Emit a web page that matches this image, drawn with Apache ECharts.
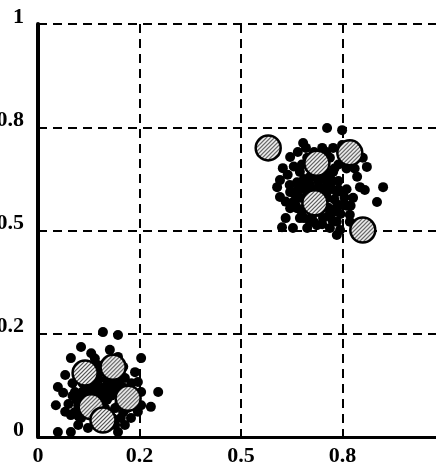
<!DOCTYPE html>
<html>
<head>
<meta charset="utf-8">
<script src="https://cdn.jsdelivr.net/npm/echarts@6/dist/echarts.min.js"></script>
<style>
  html, body { margin: 0; padding: 0; background: #fff; }
  #chart { width: 436px; height: 471px; }
</style>
</head>
<body>
<div id="chart"></div>
<script>
// tick labels (gridlines evenly spaced, labels as printed)
const tickLabels = ['0', '0.2', '0.5', '0.8', '1'];

// small black points, upper-right cluster
const upperDots = [
  [0.712,0.748],[0.749,0.743],[0.653,0.712],[0.621,0.678],[0.603,0.651],[0.596,0.622],
  [0.589,0.605],[0.596,0.581],[0.621,0.593],[0.638,0.617],[0.645,0.642],[0.663,0.676],
  [0.719,0.676],[0.727,0.642],[0.712,0.617],[0.695,0.603],[0.670,0.593],[0.645,0.579],
  [0.638,0.554],[0.621,0.554],[0.645,0.530],[0.670,0.521],[0.702,0.530],[0.727,0.545],
  [0.744,0.562],[0.768,0.538],[0.768,0.521],[0.736,0.521],[0.719,0.506],[0.736,0.489],
  [0.744,0.501],[0.810,0.654],[0.786,0.630],[0.793,0.605],[0.805,0.598],[0.850,0.605],
  [0.835,0.569],[0.776,0.579],[0.601,0.508],[0.628,0.506],[0.663,0.506],[0.687,0.513],
  [0.702,0.659],[0.719,0.634],[0.736,0.593],[0.687,0.627],[0.663,0.622],[0.712,0.579],
  [0.751,0.593],[0.800,0.676],[0.727,0.700],[0.749,0.707],
  [0.680,0.600],[0.700,0.570],[0.660,0.560],[0.690,0.545],[0.655,0.600],[0.720,0.600],
  [0.700,0.640],[0.675,0.645],[0.740,0.620],[0.760,0.650],[0.630,0.590],[0.610,0.570],
  [0.650,0.660],[0.760,0.600],[0.770,0.560],[0.680,0.690],[0.740,0.660],
  [0.670,0.610],[0.690,0.585],[0.705,0.600],[0.660,0.580],[0.650,0.545],[0.675,0.535],
  [0.715,0.555],[0.730,0.575],[0.690,0.620],[0.705,0.650],[0.725,0.620],[0.655,0.625],
  [0.630,0.570],[0.620,0.610],[0.615,0.635],[0.700,0.515],[0.745,0.540],[0.755,0.580],
  [0.780,0.650],[0.690,0.680],[0.710,0.690],[0.640,0.690],
  [0.665,0.595],[0.680,0.575],[0.695,0.560],[0.710,0.590],[0.720,0.610],[0.700,0.625],
  [0.685,0.640],[0.670,0.630],[0.650,0.610],[0.640,0.600],[0.635,0.560],[0.655,0.530],
  [0.680,0.520],[0.715,0.535],[0.735,0.555],[0.740,0.600],[0.730,0.650],[0.700,0.700],
  [0.660,0.700],[0.630,0.655],[0.610,0.530],[0.760,0.560],[0.725,0.525],[0.695,0.595]
];

// small black points, lower-left cluster
const lowerDots = [
  [0.160,0.254],[0.197,0.247],[0.106,0.218],[0.131,0.203],[0.177,0.211],[0.197,0.194],
  [0.081,0.191],[0.067,0.150],[0.049,0.121],[0.062,0.107],[0.044,0.077],[0.067,0.061],
  [0.081,0.053],[0.106,0.046],[0.099,0.077],[0.091,0.109],[0.116,0.109],[0.148,0.119],
  [0.172,0.133],[0.190,0.119],[0.214,0.143],[0.239,0.157],[0.254,0.191],[0.246,0.133],
  [0.254,0.109],[0.246,0.061],[0.229,0.046],[0.204,0.046],[0.190,0.029],[0.197,0.012],
  [0.123,0.022],[0.099,0.029],[0.081,0.012],[0.049,0.012],[0.296,0.109],[0.278,0.073],
  [0.254,0.077],[0.214,0.029],[0.165,0.102],[0.148,0.085],[0.165,0.070],[0.123,0.085],
  [0.140,0.133],[0.165,0.167],[0.148,0.174],[0.123,0.119],
  [0.150,0.140],[0.180,0.100],[0.200,0.080],[0.135,0.060],[0.110,0.130],[0.175,0.060],
  [0.210,0.170],[0.190,0.180],[0.130,0.170],[0.100,0.150],[0.220,0.110],[0.155,0.040],
  [0.160,0.120],[0.175,0.115],[0.185,0.140],[0.200,0.130],[0.140,0.100],[0.150,0.110],
  [0.170,0.090],[0.190,0.070],[0.210,0.060],[0.105,0.095],[0.120,0.140],[0.085,0.130],
  [0.075,0.080],[0.090,0.060],[0.230,0.130],[0.220,0.070],[0.175,0.150],[0.140,0.190],
  [0.155,0.100],[0.160,0.085],[0.180,0.125],[0.195,0.105],[0.135,0.115],[0.125,0.100],
  [0.150,0.155],[0.170,0.140],[0.200,0.150],[0.110,0.110],[0.095,0.090],[0.085,0.100],
  [0.100,0.050],[0.185,0.045],[0.210,0.120],[0.140,0.150]
];

// big hatched circles (cluster centres)
const centres = [
  [0.567,0.700],[0.687,0.663],[0.768,0.688],[0.682,0.567],[0.800,0.501],
  [0.116,0.155],[0.185,0.169],[0.222,0.094],[0.131,0.073],[0.160,0.041]
];

const bigSize = 25;

// diagonal hatch used to fill the big circles
function makeHatch() {
  const c = document.createElement('canvas');
  c.width = 4; c.height = 4;
  const ctx = c.getContext('2d');
  ctx.fillStyle = '#ffffff';
  ctx.fillRect(0, 0, 4, 4);
  ctx.strokeStyle = '#444444';
  ctx.lineWidth = 1.2;
  ctx.beginPath();
  ctx.moveTo(-1, 5); ctx.lineTo(5, -1);
  ctx.moveTo(-3, 3); ctx.lineTo(3, -3);
  ctx.moveTo(1, 7); ctx.lineTo(7, 1);
  ctx.stroke();
  return c;
}

const chart = echarts.init(document.getElementById('chart'));
const labelFont = {
  color: '#000',
  fontFamily: 'Liberation Serif',
  fontWeight: 'bold',
  fontSize: 22
};
const dashed = {
  show: true,
  lineStyle: { color: '#000', width: 2, type: [9, 6] }
};

chart.setOption({
  animation: false,
  grid: {
    left: 38, top: 24, right: -8, bottom: 34,
    containLabel: false,
    outerBoundsMode: 'none'
  },
  xAxis: {
    type: 'value',
    min: 0,
    max: 1,
    interval: 0.25,
    axisLine: { show: true, lineStyle: { color: '#000', width: 3 } },
    axisTick: { show: false },
    splitLine: dashed,
    axisLabel: Object.assign({}, labelFont, {
      margin: 8,
      formatter: function (v) { return tickLabels[Math.round(v * 4)]; }
    })
  },
  yAxis: {
    type: 'value',
    min: 0,
    max: 1,
    interval: 0.25,
    axisLine: { show: true, lineStyle: { color: '#000', width: 4 } },
    axisTick: { show: false },
    splitLine: dashed,
    axisLabel: Object.assign({}, labelFont, {
      margin: 14,
      verticalAlign: 'bottom',
      lineHeight: 14,
      formatter: function (v) { return tickLabels[Math.round(v * 4)]; }
    })
  },
  series: [
    {
      name: 'upper',
      type: 'scatter',
      symbolSize: 10,
      itemStyle: { color: '#000', opacity: 1 },
      data: upperDots
    },
    {
      name: 'lower',
      type: 'scatter',
      symbolSize: 10,
      itemStyle: { color: '#000', opacity: 1 },
      data: lowerDots
    },
    {
      name: 'centres',
      type: 'scatter',
      symbolSize: bigSize,
      z: 5,
      itemStyle: {
        // symbol paths are drawn at unit size and scaled by size/2,
        // so shrink the pattern by the same factor
        color: {
          image: makeHatch(),
          repeat: 'repeat',
          scaleX: 2 / bigSize,
          scaleY: 2 / bigSize
        },
        borderColor: '#000',
        borderWidth: 2.5,
        opacity: 1
      },
      data: centres
    }
  ]
});
</script>
</body>
</html>
